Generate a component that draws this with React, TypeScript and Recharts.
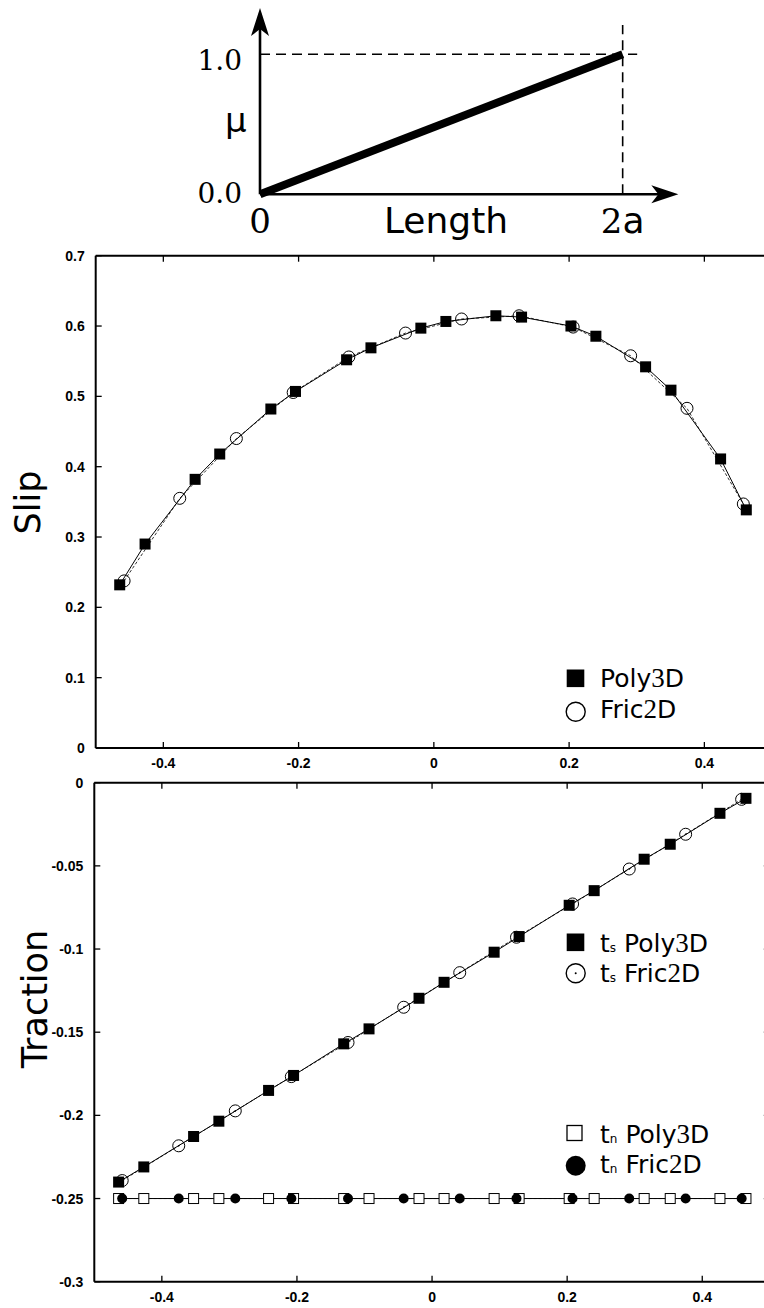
import React from 'react';
import { LineChart, Line, XAxis, YAxis, ReferenceLine, ReferenceDot } from 'recharts';

// ---------- friction diagram ----------
const muLengthX = [0, 2];
const muValues = [0, 1];
const diagramXTicks = [0, 2];
const diagramXTickLabels = ['0', '2a'];
const diagramYTicks = [0, 1];
const diagramYTickLabels = ['0.0', '1.0'];

// ---------- slip ----------
const slipPolyX = [-0.4645, -0.427, -0.353, -0.3166, -0.241, -0.2046, -0.129, -0.093, -0.0192, 0.0178, 0.0917, 0.1297, 0.2027, 0.2396, 0.3131, 0.3506, 0.424, 0.462];
const slipPolyY = [0.232, 0.29, 0.382, 0.418, 0.482, 0.507, 0.552, 0.569, 0.597, 0.6065, 0.6146, 0.6127, 0.6, 0.5855, 0.542, 0.5088, 0.411, 0.3386];
const slipFricX = [-0.458, -0.3757, -0.292, -0.208, -0.1257, -0.0419, 0.041, 0.126, 0.206, 0.291, 0.3743, 0.4576];
const slipFricY = [0.2376, 0.355, 0.44, 0.5055, 0.556, 0.59, 0.61, 0.6146, 0.5985, 0.5577, 0.483, 0.347];
const slipYTicks = [0, 0.1, 0.2, 0.3, 0.4, 0.5, 0.6, 0.7];
const slipYTickLabels = ['0', '0.1', '0.2', '0.3', '0.4', '0.5', '0.6', '0.7'];

// ---------- traction ----------
const tsPolyX = [-0.464, -0.4267, -0.353, -0.3156, -0.242, -0.205, -0.1308, -0.0933, -0.0193, 0.0178, 0.0919, 0.1289, 0.203, 0.24, 0.314, 0.3526, 0.4262, 0.4647];
const tsPolyY = [-0.2401, -0.231, -0.2127, -0.2035, -0.185, -0.176, -0.157, -0.148, -0.1296, -0.12, -0.1019, -0.0925, -0.0737, -0.0649, -0.046, -0.037, -0.0184, -0.0094];
const tsFricX = [-0.4587, -0.375, -0.2913, -0.2083, -0.1244, -0.042, 0.041, 0.125, 0.208, 0.2919, 0.3754, 0.4583];
const tsFricY = [-0.2392, -0.2183, -0.1973, -0.1767, -0.1562, -0.135, -0.1142, -0.0929, -0.0729, -0.0519, -0.031, -0.01];
const tnPolyX = [-0.464, -0.4267, -0.353, -0.3156, -0.242, -0.205, -0.1308, -0.0933, -0.0193, 0.0178, 0.0919, 0.1289, 0.203, 0.24, 0.314, 0.3526, 0.4262, 0.4647];
const tnPolyY = [-0.25, -0.25, -0.25, -0.25, -0.25, -0.25, -0.25, -0.25, -0.25, -0.25, -0.25, -0.25, -0.25, -0.25, -0.25, -0.25, -0.25, -0.25];
const tnFricX = [-0.4587, -0.375, -0.2913, -0.2083, -0.1244, -0.042, 0.041, 0.125, 0.208, 0.2919, 0.3754, 0.4583];
const tnFricY = [-0.25, -0.25, -0.25, -0.25, -0.25, -0.25, -0.25, -0.25, -0.25, -0.25, -0.25, -0.25];
const tractionYTicks = [0, -0.05, -0.1, -0.15, -0.2, -0.25, -0.3];
const tractionYTickLabels = ['0', '-0.05', '-0.1', '-0.15', '-0.2', '-0.25', '-0.3'];

const xTicks = [-0.4, -0.2, 0, 0.2, 0.4];
const xTickLabels = ['-0.4', '-0.2', '0', '0.2', '0.4'];

const zip = (xs: number[], ys: number[]) => xs.map((x, i) => ({ x, y: ys[i] }));

const SANS = '"DejaVu Sans", Verdana, sans-serif';
const SERIF = '"DejaVu Serif", serif';
const DIGIT_SERIF = '"Liberation Serif", "Times New Roman", serif';
const TICK_FONT = '"Liberation Sans", Arial, Helvetica, sans-serif';

function makeTick(side: string, ticks: number[], labels: string[]) {
  const len = 6;
  return (props: any) => {
    const { x, y, payload } = props;
    const idx = ticks.findIndex((t) => Math.abs(t - payload.value) < 1e-9);
    const label = idx >= 0 ? labels[idx] : '';
    const common = { fontFamily: TICK_FONT, fontWeight: 700, fontSize: 14, fill: '#000' };
    if (side === 'bottom') {
      return (
        <g>
          <line x1={x} x2={x} y1={y} y2={y - len} stroke="#000" strokeWidth={1.3} />
          <text x={x} y={y + 20} textAnchor="middle" {...common}>{label}</text>
        </g>
      );
    }
    if (side === 'top') {
      return <line x1={x} x2={x} y1={y} y2={y + len} stroke="#000" strokeWidth={1.3} />;
    }
    if (side === 'left') {
      return (
        <g>
          <line x1={x} x2={x + len} y1={y} y2={y} stroke="#000" strokeWidth={1.3} />
          <text x={x - 11} y={y + 5} textAnchor="end" {...common}>{label}</text>
        </g>
      );
    }
    return <line x1={x} x2={x - len} y1={y} y2={y} stroke="#000" strokeWidth={1.3} />;
  };
}

const filledSquare = (size: number) => (p: any) => (
  <rect key={`fs-${p.index}`} x={p.cx - size / 2} y={p.cy - size / 2} width={size} height={size} fill="#000" />
);
const openSquare = (size: number) => (p: any) => (
  <rect key={`os-${p.index}`} x={p.cx - size / 2} y={p.cy - size / 2} width={size} height={size} fill="#fff" stroke="#000" strokeWidth={1} />
);
const openCircle = (r: number, centerDot: boolean) => (p: any) => (
  <g key={`oc-${p.index}`}>
    <circle cx={p.cx} cy={p.cy} r={r} fill="none" stroke="#000" strokeWidth={1} />
    {centerDot ? <circle cx={p.cx} cy={p.cy} r={0.8} fill="#000" /> : null}
  </g>
);
const filledCircle = (r: number) => (p: any) => (
  <circle key={`fc-${p.index}`} cx={p.cx} cy={p.cy} r={r} fill="#000" />
);

// mixed font text: digits in serif, letters in sans
function Mixed({ text, size }: { text: string; size: number }) {
  const parts: { s: string; d: boolean }[] = [];
  for (const ch of text) {
    const d = /[0-9]/.test(ch);
    if (parts.length && parts[parts.length - 1].d === d) parts[parts.length - 1].s += ch;
    else parts.push({ s: ch, d });
  }
  return (
    <>
      {parts.map((p, i) => (
        <tspan key={i} fontFamily={p.d ? DIGIT_SERIF : SANS} fontSize={p.d ? size * 1.08 : size}>{p.s}</tspan>
      ))}
    </>
  );
}

const ArrowRight = (p: any) => (
  <path d={`M${p.cx},${p.cy} L${p.cx - 27},${p.cy - 9} L${p.cx - 20},${p.cy} L${p.cx - 27},${p.cy + 9} Z`} fill="#000" />
);
const ArrowUp = (p: any) => (
  <path d={`M${p.cx},${p.cy} L${p.cx - 9},${p.cy + 28} L${p.cx},${p.cy + 21} L${p.cx + 9},${p.cy + 28} Z`} fill="#000" />
);

const DiagramXTick = (props: any) => {
  const { x, y, payload } = props;
  const idx = diagramXTicks.indexOf(payload.value);
  const label = diagramXTickLabels[idx] ?? '';
  return (
    <text x={x} y={y + 11} textAnchor="middle" fill="#000">
      {Array.from(label).map((ch, i) => (
        <tspan key={i} fontFamily={/[0-9]/.test(ch) ? SERIF : SANS} fontSize={/[0-9]/.test(ch) ? 34 : 36}>{ch}</tspan>
      ))}
    </text>
  );
};
const diagYDy = [9, 15.5];
const DiagramYTick = (props: any) => {
  const { x, y, payload } = props;
  const idx = diagramYTicks.indexOf(payload.value);
  return (
    <text x={x - 18} y={y + (diagYDy[idx] ?? 10)} textAnchor="end" fontFamily={SERIF} fontSize={28} fill="#000">
      {diagramYTickLabels[idx] ?? ''}
    </text>
  );
};

const axisLine = { stroke: '#000', strokeWidth: 2 };

export default function App() {
  const muData = zip(muLengthX, muValues);
  const slipPoly = zip(slipPolyX, slipPolyY);
  const slipFric = zip(slipFricX, slipFricY);
  const tsPoly = zip(tsPolyX, tsPolyY);
  const tsFric = zip(tsFricX, tsFricY);
  const tnPoly = zip(tnPolyX, tnPolyY);
  const tnFric = zip(tnFricX, tnFricY);

  const axes = (yDomain: number[], yTicks: number[], yLabels: string[]) => [
    <XAxis key="xb" xAxisId="b" type="number" dataKey="x" domain={[-0.5, 0.5]} allowDataOverflow ticks={xTicks} interval={0}
      height={1} tickSize={0} tickMargin={0} tickLine={false} axisLine={axisLine} tick={makeTick('bottom', xTicks, xTickLabels)} />,
    <XAxis key="xt" xAxisId="t" orientation="top" type="number" dataKey="x" domain={[-0.5, 0.5]} allowDataOverflow ticks={xTicks} interval={0}
      height={1} tickSize={0} tickMargin={0} tickLine={false} axisLine={axisLine} tick={makeTick('top', xTicks, xTickLabels)} />,
    <YAxis key="yl" yAxisId="l" type="number" domain={yDomain} allowDataOverflow ticks={yTicks} interval={0}
      width={1} tickSize={0} tickMargin={0} tickLine={false} axisLine={axisLine} tick={makeTick('left', yTicks, yLabels)} />,
    <YAxis key="yr" yAxisId="r" orientation="right" type="number" domain={yDomain} allowDataOverflow ticks={yTicks} interval={0}
      width={1} tickSize={0} tickMargin={0} tickLine={false} axisLine={axisLine} tick={makeTick('right', yTicks, yLabels)} />,
  ];

  return (
    <div style={{ position: 'absolute', left: 0, top: 0, width: 764, height: 1308, overflow: 'hidden', background: '#fff' }}>
      {/* diagram */}
      <div style={{ position: 'absolute', left: 0, top: 0 }}>
        <LineChart width={764} height={240} margin={{ top: 5.3, right: 68.8, bottom: 16.7, left: 259 }}>
          <XAxis type="number" dataKey="x" domain={[0, 2.4]} allowDataOverflow ticks={diagramXTicks} interval={0}
            height={1} tickSize={0} tickMargin={0} tickLine={false} axisLine={false} tick={DiagramXTick} />
          <YAxis type="number" domain={[-0.2, 1.35]} allowDataOverflow ticks={diagramYTicks} interval={0}
            width={1} tickSize={0} tickMargin={0} tickLine={false} axisLine={false} tick={DiagramYTick} />
          <ReferenceLine segment={[{ x: 0, y: 1 }, { x: 2.08, y: 1 }]} stroke="#000" strokeWidth={1.6} strokeDasharray="10 6" />
          <ReferenceLine segment={[{ x: 2, y: 0 }, { x: 2, y: 1.21 }]} stroke="#000" strokeWidth={1.6} strokeDasharray="10 6" />
          <ReferenceLine segment={[{ x: 0, y: 0 }, { x: 2.27, y: 0 }]} stroke="#000" strokeWidth={2.6} />
          <ReferenceLine segment={[{ x: 0, y: 0 }, { x: 0, y: 1.29 }]} stroke="#000" strokeWidth={2.6} />
          <ReferenceDot x={2.307} y={0} shape={ArrowRight} />
          <ReferenceDot x={0} y={1.33} shape={ArrowUp} />
          <Line data={muData} dataKey="y" stroke="#000" strokeWidth={8} dot={false} activeDot={false} isAnimationActive={false} />
        </LineChart>
      </div>

      {/* slip */}
      <div style={{ position: 'absolute', left: 0, top: 240 }}>
        <LineChart width={800} height={540} margin={{ top: 14.7, right: 27, bottom: 31, left: 94.7 }}>
          {axes([0, 0.7], slipYTicks, slipYTickLabels)}
          <Line xAxisId="b" yAxisId="l" data={slipFric} dataKey="y" stroke="#333" strokeWidth={1} strokeDasharray="3 2"
            dot={openCircle(6, false)} activeDot={false} isAnimationActive={false} />
          <Line xAxisId="b" yAxisId="l" data={slipPoly} dataKey="y" stroke="#000" strokeWidth={1}
            dot={filledSquare(11)} activeDot={false} isAnimationActive={false} />
        </LineChart>
      </div>

      {/* traction */}
      <div style={{ position: 'absolute', left: 0, top: 760 }}>
        <LineChart width={800} height={548} margin={{ top: 21.7, right: 29.2, bottom: 25.3, left: 93.3 }}>
          {axes([-0.3, 0], tractionYTicks, tractionYTickLabels)}
          <Line xAxisId="b" yAxisId="l" data={tsFric} dataKey="y" stroke="#333" strokeWidth={1} strokeDasharray="3 2"
            dot={openCircle(6, true)} activeDot={false} isAnimationActive={false} />
          <Line xAxisId="b" yAxisId="l" data={tsPoly} dataKey="y" stroke="#000" strokeWidth={1}
            dot={filledSquare(11)} activeDot={false} isAnimationActive={false} />
          <Line xAxisId="b" yAxisId="l" data={tnPoly} dataKey="y" stroke="#333" strokeWidth={1} strokeDasharray="3 2"
            dot={openSquare(10)} activeDot={false} isAnimationActive={false} />
          <Line xAxisId="b" yAxisId="l" data={tnFric} dataKey="y" stroke="#000" strokeWidth={1}
            dot={filledCircle(5)} activeDot={false} isAnimationActive={false} />
        </LineChart>
      </div>

      {/* text overlay: axis titles and legends */}
      <svg width={764} height={1308} style={{ position: 'absolute', left: 0, top: 0, pointerEvents: 'none' }}>
        <text x={225} y={132} fontFamily={SANS} fontSize={34} fill="#000">μ</text>
        <text x={446} y={233} textAnchor="middle" fontFamily={SANS} fontSize={36} fill="#000">Length</text>

        <text transform="translate(40,502.5) rotate(-90)" textAnchor="middle" fontFamily={SANS} fontSize={35} fill="#000">Slip</text>
        <text transform="translate(46.5,999) rotate(-90)" textAnchor="middle" fontFamily={SANS} fontSize={35} fill="#000">Traction</text>

        {/* slip legend */}
        <rect x={566.7} y={669.5} width={17.6} height={17.6} fill="#000" />
        <text x={600} y={686.7} fill="#000"><Mixed text="Poly3D" size={25} /></text>
        <circle cx={575.7} cy={711.7} r={9.5} fill="none" stroke="#000" strokeWidth={1.4} />
        <text x={600} y={718.3} fill="#000"><Mixed text="Fric2D" size={25} /></text>

        {/* traction legend 1 */}
        <rect x={566.7} y={933.5} width={17.6} height={17.6} fill="#000" />
        <text x={600} y={951.7} fill="#000">
          <tspan fontFamily={SANS} fontSize={25}>t</tspan>
          <tspan fontFamily={SANS} fontSize={12}>s</tspan>
          <tspan fontFamily={SANS} fontSize={25}> </tspan>
          <Mixed text="Poly3D" size={25} />
        </text>
        <circle cx={575.7} cy={973.3} r={9.5} fill="none" stroke="#000" strokeWidth={1.4} />
        <circle cx={575.7} cy={973.3} r={1} fill="#000" />
        <text x={600} y={981.7} fill="#000">
          <tspan fontFamily={SANS} fontSize={25}>t</tspan>
          <tspan fontFamily={SANS} fontSize={12}>s</tspan>
          <tspan fontFamily={SANS} fontSize={25}> </tspan>
          <Mixed text="Fric2D" size={25} />
        </text>

        {/* traction legend 2 */}
        <rect x={567} y={1125.5} width={15} height={15} fill="#fff" stroke="#000" strokeWidth={1.3} />
        <text x={600} y={1143.3} fill="#000">
          <tspan fontFamily={SANS} fontSize={25}>t</tspan>
          <tspan fontFamily={SANS} fontSize={12}>n</tspan>
          <tspan fontFamily={SANS} fontSize={25}> </tspan>
          <Mixed text="Poly3D" size={25} />
        </text>
        <circle cx={575.7} cy={1165.7} r={10} fill="#000" />
        <text x={600} y={1173.3} fill="#000">
          <tspan fontFamily={SANS} fontSize={25}>t</tspan>
          <tspan fontFamily={SANS} fontSize={12}>n</tspan>
          <tspan fontFamily={SANS} fontSize={25}> </tspan>
          <Mixed text="Fric2D" size={25} />
        </text>
      </svg>
    </div>
  );
}
